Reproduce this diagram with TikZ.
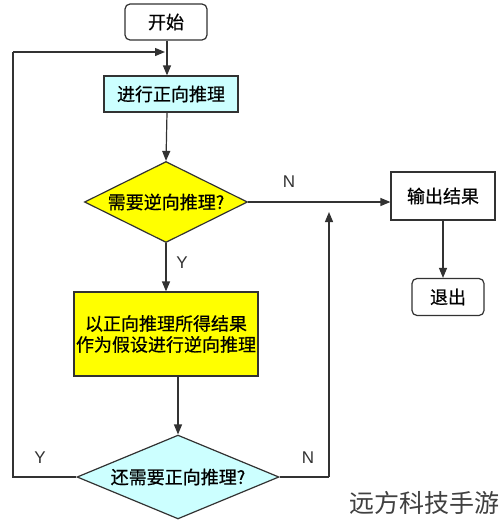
\documentclass[tikz,border=0pt]{standalone}
\usepackage{fontspec}
\setmainfont{Liberation Sans}
\newfontfamily\cjk[FakeBold=0.6]{Noto Sans CJK SC}
\newfontfamily\cjkwm{Noto Sans CJK SC}
\usetikzlibrary{shapes.geometric,arrows.meta}
\definecolor{lcyan}{RGB}{204,255,255}
\definecolor{yel}{RGB}{255,255,0}
\definecolor{ln}{RGB}{50,50,50}
\tikzset{
  base/.style={draw=ln,line width=1.2pt,inner sep=0pt,align=center,font=\cjk\fontsize{18}{21}\selectfont},
  term/.style={base,rounded corners=5pt,fill=white},
  proc/.style={base,rectangle},
  dec/.style={base,diamond,aspect=2},
  conn/.style={draw=ln,line width=1.2pt,-{Triangle[length=10pt,width=8pt]}},
  plain/.style={draw=ln,line width=1.2pt},
  lab/.style={font=\fontsize{17}{20}\selectfont,text=ln},
}
\begin{document}
\begin{tikzpicture}[x=1pt,y=-1pt]
\useasboundingbox[fill=white] (0,0) rectangle (500,525);
\node[term,minimum width=82pt,minimum height=36pt] (start) at (166,22) {开始};
\node[proc,fill=lcyan,minimum width=134pt,minimum height=36pt] (fwd) at (171,94) {进行正向推理};
\node[dec,fill=yel,minimum width=163pt,minimum height=81pt] (d1) at (166,202) {需要逆向推理?};
\node[proc,fill=yel,minimum width=184pt,minimum height=84pt] (bwd) at (166,334) {以正向推理所得结果\\作为假设进行逆向推理};
\node[dec,fill=lcyan,minimum width=202pt,minimum height=82pt] (d2) at (178,477) {还需要正向推理?};
\node[proc,fill=white,minimum width=104pt,minimum height=48pt] (out) at (443,196) {输出结果};
\node[term,minimum width=72pt,minimum height=37pt] (quit) at (448,297) {退出};

\coordinate (ltip) at (165,52);
\coordinate (lbot) at (13,477);
\coordinate (ltop) at (13,52);
\coordinate (rbot) at (329,477);
\coordinate (rtip) at (329,212);

\draw[conn] (start.south -| 167,0) -- (fwd.north -| 167,0);
\draw[conn] (fwd.south -| 167,0) -- (d1.north);
\draw[conn] (d1.east) -- (out.west |- d1.east);
\draw[conn] (d1.south) -- (bwd.north -| d1.south);
\draw[conn] (bwd.south -| d2.north) -- (d2.north);
\draw[conn] (out.south) -- (quit.north -| out.south);
\draw[plain] (d2.west) -- (lbot) -- (ltop);
\draw[conn] (ltop) -- (ltip);
\draw[plain] (d2.east) -- (rbot);
\draw[conn] (rbot) -- (rtip);

\node[lab] (n1) at (289,182) {N};
\node[lab] (y1) at (182,263) {Y};
\node[lab] (y2) at (40,458) {Y};
\node[lab] (n2) at (308,458) {N};
\node[font=\cjkwm\fontsize{25}{28}\selectfont,text=black!75] (wm) at (424,503) {远方科技手游};
\end{tikzpicture}
\end{document}
